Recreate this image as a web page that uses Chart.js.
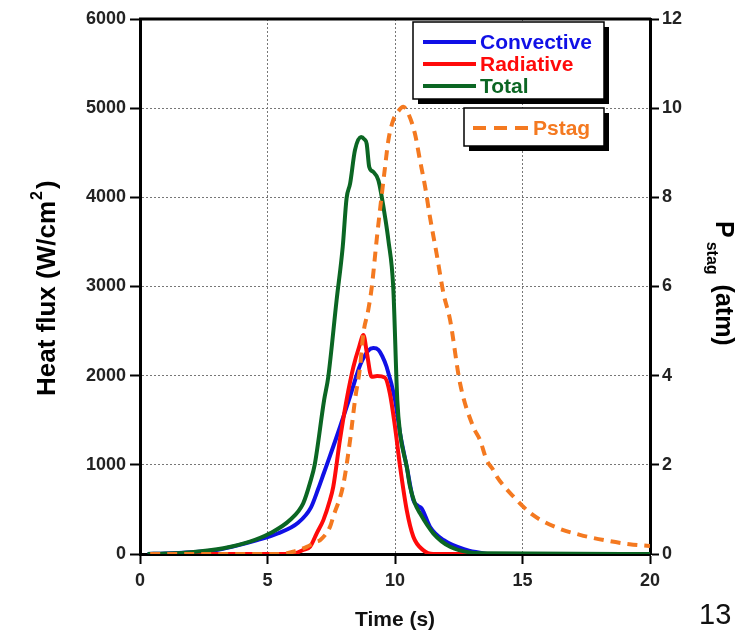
<!DOCTYPE html>
<html>
<head>
<meta charset="utf-8">
<script src="https://cdn.jsdelivr.net/npm/chart.js@4.4.0/dist/chart.umd.min.js"></script>
<style>
  html, body { margin: 0; padding: 0; background: #fff; }
  #wrap { position: relative; width: 744px; height: 633px; }
  #pageNum { position: absolute; left: 699px; top: 598px; font: 29px "Liberation Sans", Arial, sans-serif; color: #111; }
</style>
</head>
<body>
<div id="wrap">
  <canvas id="chartFlux" width="744" height="633"></canvas>
  <div id="pageNum">13</div>
</div>
<script>
// ---- datos ----
const tConv = [0.3, 1, 2, 3, 3.6, 4.6, 5.4, 6.2, 6.7, 7.0, 7.2, 7.45, 7.85, 8.25, 8.65, 8.95, 9.15, 9.35, 9.5, 9.67, 10.0, 10.2, 10.46, 10.72, 10.9, 11.05, 11.37, 11.9, 12.8, 13.6];
const qConv = [0, 5, 20, 45, 80, 155, 230, 350, 520, 740, 900, 1100, 1430, 1780, 2130, 2280, 2310, 2290, 2220, 2100, 1730, 1350, 980, 605, 540, 510, 306, 157, 45, 0];

const tRad = [0.5, 5.8, 6.1, 6.4, 6.67, 6.93, 7.19, 7.45, 7.58, 7.84, 8.1, 8.37, 8.6, 8.76, 8.9, 9.08, 9.3, 9.6, 9.8, 10.0, 10.2, 10.46, 10.72, 11.1, 11.5, 13.5];
const qRad = [0, 0, 10, 45, 82, 232, 380, 605, 755, 1278, 1726, 2100, 2330, 2455, 2250, 1988, 1995, 1980, 1800, 1427, 979, 493, 194, 45, 0, 0];

const tTot = [0.3, 1, 2, 3.27, 4.31, 5.1, 5.88, 6.4, 6.67, 6.85, 7.22, 7.38, 7.71, 7.95, 8.1, 8.24, 8.43, 8.67, 8.8, 8.89, 8.99, 9.15, 9.35, 9.48, 9.61, 9.74, 9.93, 10.09, 10.2, 10.46, 10.59, 10.78, 10.98, 11.5, 12.16, 13.46, 20];
const qTot = [0, 5, 20, 64, 138, 232, 381, 568, 800, 1000, 1726, 1980, 2847, 3445, 3988, 4155, 4530, 4678, 4650, 4600, 4340, 4285, 4190, 4005, 3780, 3520, 2996, 1726, 1353, 979, 755, 568, 456, 232, 82, 8, 0];

const tPstag = [0.4, 5.5, 6.0, 6.54, 6.93, 7.06, 7.45, 7.58, 7.97, 8.24, 8.43, 8.63, 8.76, 8.95, 9.09, 9.28, 9.41, 9.61, 9.74, 9.93, 10.07, 10.33, 10.52, 10.78, 10.98, 11.18, 11.37, 11.63, 11.9, 12.16, 12.55, 13.07, 13.33, 13.6, 13.86, 14.0, 14.64, 15.42, 16.4, 17.25, 18.3, 19.2, 20];
const pStag = [0, 0, 0.05, 0.16, 0.28, 0.31, 0.61, 0.84, 1.55, 2.56, 3.45, 4.2, 4.95, 5.47, 5.99, 7.04, 7.71, 8.68, 9.28, 9.73, 9.88, 10.03, 9.88, 9.43, 8.83, 8.24, 7.56, 6.74, 5.85, 5.25, 3.83, 2.85, 2.56, 2.1, 1.88, 1.73, 1.29, 0.87, 0.58, 0.43, 0.3, 0.22, 0.18];

const xTicks = [0, 5, 10, 15, 20];
const fluxTicks = [0, 1000, 2000, 3000, 4000, 5000, 6000];
const pTicks = [0, 2, 4, 6, 8, 10, 12];

const nombres = ["Convective", "Radiative", "Total", "Pstag"];
const colores = ["#1010e6", "#ff0a0a", "#0b6623", "#f47920"];

const FONT = '"Liberation Sans", Arial, sans-serif';

function puntos(ts, vs) {
  return ts.map((t, i) => ({ x: t, y: vs[i] }));
}

// leyenda con cajas, marco superior y titulos de los ejes Y
const cajaLeyenda = {
  id: "cajaLeyenda",
  afterDraw(chart) {
    const ctx = chart.ctx;
    const ca = chart.chartArea;
    ctx.save();
    // marco superior
    ctx.strokeStyle = "#000";
    ctx.lineWidth = 3;
    ctx.beginPath();
    ctx.moveTo(ca.left - 1, ca.top);
    ctx.lineTo(ca.right + 1, ca.top);
    ctx.stroke();

    function caja(x, y, w, h) {
      ctx.fillStyle = "#000";
      ctx.fillRect(x + 5, y + 5, w, h);
      ctx.fillStyle = "#fff";
      ctx.fillRect(x, y, w, h);
      ctx.lineWidth = 1.5;
      ctx.strokeStyle = "#000";
      ctx.strokeRect(x, y, w, h);
    }
    caja(413, 22, 191, 77);
    caja(464, 108, 140, 38);

    ctx.font = "bold 21px " + FONT;
    ctx.textBaseline = "middle";
    ctx.textAlign = "left";
    const filas = [42, 64, 86];
    // las tres primeras series
    [0, 1, 2].forEach((i, k) => {
      const ds = chart.data.datasets.find((d) => d.label === nombres[i]);
      ctx.strokeStyle = ds.borderColor;
      ctx.lineWidth = 4;
      ctx.setLineDash([]);
      ctx.beginPath();
      ctx.moveTo(423, filas[k]);
      ctx.lineTo(476, filas[k]);
      ctx.stroke();
      ctx.fillStyle = ds.borderColor;
      ctx.fillText(ds.label, 480, filas[k] + 1);
    });
    const dsP = chart.data.datasets.find((d) => d.label === nombres[3]);
    ctx.strokeStyle = dsP.borderColor;
    ctx.lineWidth = 4;
    ctx.setLineDash([13, 8]);
    ctx.beginPath();
    ctx.moveTo(473, 128);
    ctx.lineTo(531, 128);
    ctx.stroke();
    ctx.setLineDash([]);
    ctx.fillStyle = dsP.borderColor;
    ctx.fillText(dsP.label, 533, 129);

    // titulo eje izquierdo con superindice
    ctx.save();
    ctx.translate(55, 396);
    ctx.rotate(-Math.PI / 2);
    ctx.fillStyle = "#000";
    ctx.textBaseline = "alphabetic";
    ctx.font = "bold 26px " + FONT;
    const txtL = "Heat flux (W/cm";
    ctx.fillText(txtL, 0, 0);
    let wL = ctx.measureText(txtL).width;
    ctx.font = "bold 16px " + FONT;
    ctx.fillText("2", wL + 1, -13);
    wL += ctx.measureText("2").width + 3;
    ctx.font = "bold 26px " + FONT;
    ctx.fillText(")", wL, 0);
    ctx.restore();

    // titulo eje derecho con subindice
    ctx.translate(716, 221);
    ctx.rotate(Math.PI / 2);
    ctx.fillStyle = "#000";
    ctx.textBaseline = "alphabetic";
    ctx.font = "bold 25px " + FONT;
    ctx.fillText("P", 0, 0);
    const wP = ctx.measureText("P").width;
    ctx.font = "bold 16px " + FONT;
    ctx.fillText("stag", wP + 4, 9);
    const wS = ctx.measureText("stag").width;
    ctx.font = "bold 25px " + FONT;
    ctx.fillText("(atm)", wP + wS + 14, 0);
    ctx.restore();
  },
};

const ctx_flux = document.getElementById("chartFlux");

const estiloTicks = { size: 18, weight: "bold", family: FONT };
const sinComa = (v) => String(v);

const myChart = new Chart(ctx_flux, {
  type: "line",
  data: {
    datasets: [
      {
        label: nombres[3],
        data: puntos(tPstag, pStag),
        borderColor: colores[3],
        borderDash: [10, 7],
        yAxisID: "y1",
      },
      {
        label: nombres[2],
        data: puntos(tTot, qTot),
        borderColor: colores[2],
        yAxisID: "y",
      },
      {
        label: nombres[1],
        data: puntos(tRad, qRad),
        borderColor: colores[1],
        yAxisID: "y",
      },
      {
        label: nombres[0],
        data: puntos(tConv, qConv),
        borderColor: colores[0],
        yAxisID: "y",
      },
    ],
  },
  options: {
    responsive: false,
    animation: false,
    layout: { padding: { top: 19, left: 0, right: 0, bottom: 0 } },
    elements: {
      point: { radius: 0 },
      line: { borderWidth: 4, cubicInterpolationMode: "monotone", borderCapStyle: "butt" },
    },
    plugins: {
      legend: { display: false },
      tooltip: { enabled: false },
    },
    scales: {
      x: {
        type: "linear",
        min: 0,
        max: 20,
        afterFit: (s) => { s.height = 79; },
        afterBuildTicks: (s) => { s.ticks = xTicks.map((v) => ({ value: v })); },
        ticks: { color: "#222", font: estiloTicks, padding: 6, maxRotation: 0, callback: sinComa },
        grid: { color: "#777", lineWidth: 1, tickColor: "#000", tickWidth: 2, tickLength: 10 },
        border: { color: "#000", width: 3, dash: [2, 2] },
        title: { display: true, text: "Time (s)", color: "#111", font: { size: 21, weight: "bold", family: FONT }, padding: { top: 0, bottom: 0 } },
      },
      y: {
        position: "left",
        min: 0,
        max: 6000,
        afterFit: (s) => { s.width = 140; },
        afterBuildTicks: (s) => { s.ticks = fluxTicks.map((v) => ({ value: v })); },
        ticks: { color: "#222", font: estiloTicks, padding: 4, callback: sinComa },
        grid: { color: "#777", lineWidth: 1, tickColor: "#000", tickWidth: 2, tickLength: 10 },
        border: { color: "#000", width: 3, dash: [2, 2] },
      },
      y1: {
        position: "right",
        min: 0,
        max: 12,
        afterFit: (s) => { s.width = 94; },
        afterBuildTicks: (s) => { s.ticks = pTicks.map((v) => ({ value: v })); },
        ticks: { color: "#222", font: estiloTicks, padding: 3, callback: sinComa },
        grid: { drawOnChartArea: false, tickColor: "#000", tickWidth: 2, tickLength: 9 },
        border: { color: "#000", width: 3 },
      },
    },
  },
  plugins: [cajaLeyenda],
});
</script>
</body>
</html>
